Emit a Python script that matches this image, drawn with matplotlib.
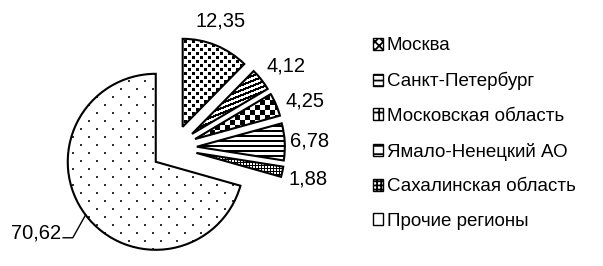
import numpy as np
import matplotlib
matplotlib.use("Agg")
import matplotlib.pyplot as plt
from matplotlib.patches import Patch
from matplotlib import font_manager

# ---- data ----
regions = ["Москва", "Санкт-Петербург", "Московская область",
           "Ямало-Ненецкий АО", "Сахалинская область", "Прочие регионы"]
shares = [12.35, 4.12, 4.25, 6.78, 1.88, 70.62]
share_labels = ["12,35", "4,12", "4,25", "6,78", "1,88", "70,62"]

# ---- font ----
fam = "Liberation Sans"
try:
    font_manager.findfont("Liberation Sans Narrow", fallback_to_default=False)
    fam = "Liberation Sans Narrow"
except Exception:
    pass
plt.rcParams["font.family"] = [fam, "DejaVu Sans"]
plt.rcParams["hatch.linewidth"] = 1.3

W, H = 603, 266
fig = plt.figure(figsize=(W / 100, H / 100), dpi=100)
AXW = 340
ax = fig.add_axes([0, 0, AXW / W, 1])
R = 88.0
cx, cy = 174.0, 148.0  # pie centre in pixels (from top)
xlim = (-cx / R, (AXW - cx) / R)
ylim = (-(H - cy) / R, cy / R)

explode = [0.26] * len(shares)
wedges, _ = ax.pie(shares, explode=explode, startangle=90, counterclock=False,
                   radius=1.0, colors=["none"] * 6,
                   wedgeprops=dict(edgecolor="black", linewidth=1.5, zorder=3))
ax.set_xlim(*xlim)
ax.set_ylim(*ylim)
ax.set_aspect("auto")
ax.axis("off")

# ---- textures (pixel patterns) ----
ii, jj = np.mgrid[0:H, 0:AXW]
pat_moscow = (((ii % 8) < 3) & ((jj % 8) < 3)) | ((((ii + 4) % 8) < 3) & (((jj + 4) % 8) < 3))
pat_spb = ((ii + 0.4 * jj) % 5) < 2.2
pat_mo = ((ii // 5 + jj // 5) % 2) == 0
pat_yamal = (ii % 5) < 2
pat_sakh = (ii % 3 == 0) | (jj % 3 == 0)
pat_other = (((ii % 16) < 2) & ((jj % 16) < 2)) | ((((ii + 8) % 16) < 2) & (((jj + 8) % 16) < 2))
patterns = [pat_moscow, pat_spb, pat_mo, pat_yamal, pat_sakh, pat_other]
darkness = [1, 1, 1, 1, 1, 0.8]

for w, p, d in zip(wedges, patterns, darkness):
    img = 1.0 - p.astype(float) * d
    im = ax.imshow(img, cmap="gray", vmin=0, vmax=1, extent=(*xlim, *ylim),
                   origin="upper", interpolation="nearest", zorder=2,
                   aspect="auto")
    im.set_clip_path(w)

# ---- value labels ----
fs = 14.5
nudges = {"12,35": (-5, 0), "4,12": (4, -3), "4,25": (5, -7),
          "6,78": (-2, -1), "1,88": (0, -2)}
for k, (w, lab) in enumerate(zip(wedges, share_labels)):
    th = np.deg2rad((w.theta1 + w.theta2) / 2)
    d = np.array([np.cos(th), np.sin(th)])
    if lab == "70,62":
        apex = explode[k] * d
        edge = apex + d * 1.0
        pts = np.array([[-1.26, -1.02], [-1.15, -1.02], edge])
        ax.plot(pts[:, 0], pts[:, 1], color="black", lw=1.0, zorder=4)
        ax.text(-1.28, -0.965, lab, ha="right", va="center", fontsize=fs)
    else:
        pos = 1.56 * d
        ax.annotate(lab, xy=(pos[0], pos[1]), xytext=nudges[lab],
                    textcoords="offset pixels", ha="center", va="center",
                    fontsize=fs)

# ---- legend ----
hatches = ["xxxx", "---", "++", "--", "++++", ""]
handles = [Patch(facecolor="white", edgecolor="black", hatch=h, linewidth=1.0)
           for h in hatches]
leg = fig.legend(handles, regions, loc="upper left",
                 bbox_to_anchor=(365 / W, 1 - 30 / H), frameon=False,
                 fontsize=13.5, handlelength=0.55, handleheight=0.6,
                 handletextpad=0.2, labelspacing=0.94, borderaxespad=0)

fig.savefig("out.png", dpi=100)
